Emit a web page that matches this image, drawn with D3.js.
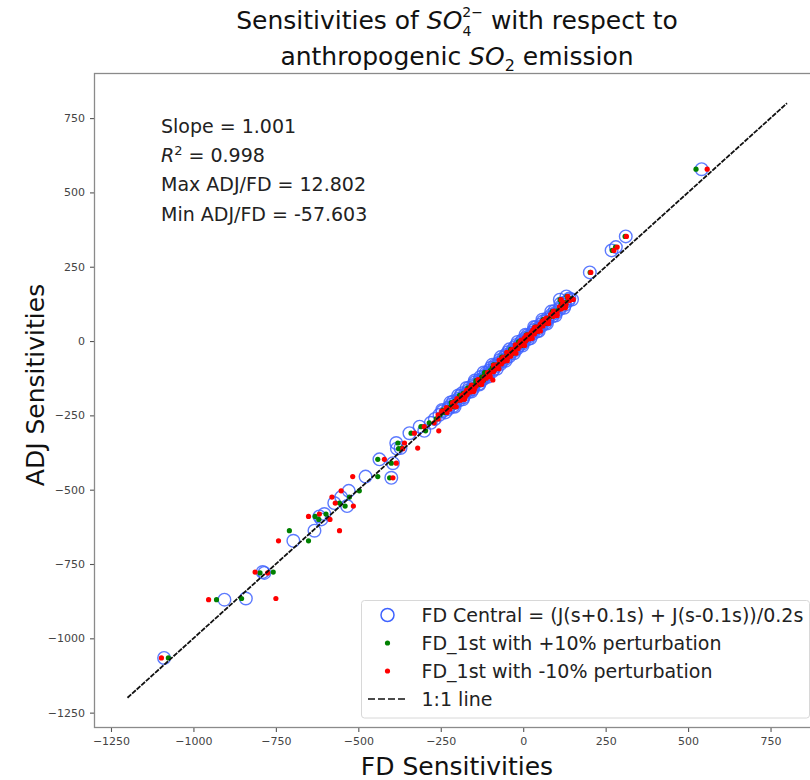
<!DOCTYPE html>
<html>
<head>
<meta charset="utf-8">
<script src="https://cdn.jsdelivr.net/npm/d3@7"></script>
<style>
  body { margin: 0; background: #fff; }
  svg { font-family: "DejaVu Sans", sans-serif; }
</style>
</head>
<body>
<div id="chart"></div>
<script>
// ADJ sensitivity of each grid cell (y) and the three finite-difference estimates (x)
const adj = [
  -1066, -870, -866, -777, -780, -672, -638, -590, -582, -600, -545, -525, -504, -555,
  -456, -398, -460, -411, -362, -343, -310, -288, -302, -360, -275, -262,
  -248, -240, -236, -229, -224, -219, -214, -208, -203, -199, -194, -189, -185, -180,
  -176, -171, -166, -162, -157, -152, -148, -143, -139, -134, -131, -130, -125, -121,
  -117, -112, -108, -103, -99, -95, -90, -86, -82, -77, -73, -69, -64, -60, -56, -51,
  -47, -43, -38, -34, -30, -26, -21, -17, -13, -9, -5, -1, 3, 7, 11, 15, 19, 24, 28,
  33, 37, 42, 46, 51, 56, 61, 66, 71, 77, 83, 89, 95, 101, 108, 115, 122, 129, 136,
  143, 139, 150, 231, 305, 316, 352, 578,
  -232, -221, -207, -196, -183, -170, -158, -146, -133, -120, -106, -93, -80, -66, -54,
  -41, -28, -15, -3, 9, 21, 34, 47, 59, 72, 86, 99, 112, 126, 140
];
const fdCentral = [
  -1089, -906, -841, -790, -785, -697, -633, -618, -603, -612, -573, -552, -529, -534,
  -478, -436, -400, -395, -383, -385, -345, -314, -300, -372, -280, -268,
  -254, -236, -244, -227, -227, -212, -219, -207, -212, -194, -196, -181, -191, -177,
  -186, -165, -167, -153, -164, -150, -152, -133, -147, -130, -125, -132, -118, -130,
  -116, -107, -114, -94, -102, -89, -98, -84, -87, -69, -74, -65, -71, -54, -59, -42,
  -53, -41, -47, -29, -32, -19, -26, -14, -21, -3, -7, 3, -3, 15, 8, 17, 12, 30, 27,
  42, 32, 45, 38, 56, 54, 68, 60, 73, 73, 89, 86, 99, 95, 111, 113, 127, 125, 138,
  140, 111, 131, 202, 268, 281, 311, 541,
  -246, -208, -221, -183, -197, -157, -172, -133, -147, -107, -120, -80, -94, -53, -68,
  -28, -42, -2, -17, 22, 7, 47, 33, 72, 58, 98, 85, 124, 113, 148
];
const fdPlus10 = [
  -1076, -930, -854, -758, -798, -651, -709, -631, -598, -620, -557, -527, -497, -540,
  -441, -441, -405, -400, -378, -380, -340, -310, -296, -368, -285, -264,
  -252, -238, -241, -229, -224, -215, -217, -209, -208, -197, -193, -184, -188, -179,
  -182, -168, -164, -156, -160, -152, -149, -137, -143, -132, -120, -129, -121, -126,
  -118, -110, -111, -97, -100, -92, -94, -86, -84, -72, -72, -67, -68, -57, -56, -45,
  -50, -43, -43, -32, -30, -22, -23, -16, -18, -6, -5, 1, 0, 12, 10, 15, 15, 27, 29,
  39, 35, 43, 41, 54, 56, 65, 63, 71, 75, 86, 88, 97, 98, 109, 115, 125, 127, 136,
  142, 112, 133, 203, 270, 280, 309, 524,
  -243, -211, -218, -186, -193, -160, -168, -136, -143, -110, -117, -83, -90, -56, -65,
  -31, -38, -5, -14, 19, 10, 44, 36, 69, 61, 95, 88, 121, 116, 146
];
const fdMinus10 = [
  -1097, -954, -750, -813, -775, -742, -557, -651, -618, -586, -570, -580, -552, -515,
  -517, -421, -395, -385, -365, -360, -330, -300, -256, -320, -270, -258,
  -258, -231, -247, -222, -233, -208, -211, -214, -204, -190, -201, -176, -183, -170,
  -178, -160, -172, -148, -156, -143, -157, -128, -136, -122, -92, -137, -112, -118,
  -108, -102, -105, -90, -92, -85, -88, -78, -90, -66, -68, -60, -73, -50, -62, -38,
  -46, -36, -50, -26, -35, -16, -20, -10, -24, 0, -10, 7, -6, 18, 4, 21, 9, 34, 24,
  45, 29, 49, 35, 60, 51, 71, 57, 77, 70, 92, 83, 103, 92, 115, 110, 130, 122, 141,
  137, 115, 135, 205, 275, 285, 313, 558,
  -236, -203, -212, -178, -186, -150, -161, -126, -135, -100, -108, -74, -82, -48, -58,
  -22, -33, 4, -8, 27, 14, 52, 40, 77, 65, 103, 92, 128, 120, 152
];
const oneToOne = [-1200, 800];
const tickValues = [-1250, -1000, -750, -500, -250, 0, 250, 500, 750];
const statLines = ["Slope = 1.001", "= 0.998", "Max ADJ/FD = 12.802", "Min ADJ/FD = -57.603"];
const legendLabels = [
  "FD Central = (J(s+0.1s) + J(s-0.1s))/0.2s",
  "FD_1st with +10% perturbation",
  "FD_1st with -10% perturbation",
  "1:1 line"
];

const width = 810, height = 780;
const margin = { top: 73.5, left: 94.5 };
const plotW = 725.5, plotH = 654;

const svg = d3.select("#chart").append("svg")
  .attr("width", width).attr("height", height);

const x = d3.scaleLinear().domain([-1300, 900]).range([margin.left, margin.left + plotW]);
const y = d3.scaleLinear().domain([-1300, 900]).range([margin.top + plotH, margin.top]);

const fmt = d => (d < 0 ? "\u2212" + Math.abs(d) : String(d));

// axes
const xAxis = svg.append("g")
  .attr("transform", `translate(0,${margin.top + plotH})`)
  .call(d3.axisBottom(x).tickValues(tickValues).tickFormat(fmt).tickSize(4.5).tickSizeOuter(0).tickPadding(5));
const yAxis = svg.append("g")
  .attr("transform", `translate(${margin.left},0)`)
  .call(d3.axisLeft(y).tickValues(tickValues).tickFormat(fmt).tickSize(4.5).tickSizeOuter(0).tickPadding(5));
[xAxis, yAxis].forEach(g => {
  g.select(".domain").remove();
  g.selectAll(".tick line").attr("stroke", "#555").attr("stroke-width", 1.1);
  g.selectAll(".tick text").attr("fill", "#444").style("font-size", "11px")
    .style("font-family", "DejaVu Sans, sans-serif");
});

// frame
svg.append("rect")
  .attr("x", margin.left).attr("y", margin.top)
  .attr("width", plotW).attr("height", plotH)
  .attr("fill", "none").attr("stroke", "#8a8a8a").attr("stroke-width", 1.3);

const idx = d3.range(adj.length);

// FD central: hollow blue circles
svg.append("g").selectAll("circle")
  .data(idx).join("circle")
  .attr("cx", i => x(fdCentral[i])).attr("cy", i => y(adj[i]))
  .attr("r", 6.3)
  .attr("fill", "none").attr("stroke", "#3f63ff").attr("stroke-width", 1.4).attr("opacity", 0.85);

// +10%: green dots
svg.append("g").selectAll("circle")
  .data(idx).join("circle")
  .attr("cx", i => x(fdPlus10[i])).attr("cy", i => y(adj[i]))
  .attr("r", 2.6).attr("fill", "#008000");

// -10%: red dots
svg.append("g").selectAll("circle")
  .data(idx).join("circle")
  .attr("cx", i => x(fdMinus10[i])).attr("cy", i => y(adj[i]))
  .attr("r", 2.6).attr("fill", "#ff0000");

// 1:1 line
svg.append("line")
  .attr("x1", x(oneToOne[0])).attr("y1", y(oneToOne[0]))
  .attr("x2", x(oneToOne[1])).attr("y2", y(oneToOne[1]))
  .attr("stroke", "#111").attr("stroke-width", 1.8).attr("stroke-dasharray", "5,1.2");

// stats text
const stats = svg.append("g").style("font-size", "19px").attr("fill", "#222");
statLines.forEach((s, i) => {
  const t = stats.append("text").attr("x", 161).attr("y", 133 + i * 29.2);
  if (i === 1) {
    t.append("tspan").style("font-style", "italic").text("R");
    t.append("tspan").style("font-size", "13px").attr("dy", -7).text("2");
    t.append("tspan").attr("dy", 7).text(" " + s);
  } else {
    t.text(s);
  }
});

// title
const t1 = svg.append("text").attr("x", 457).attr("y", 29)
  .attr("text-anchor", "middle").style("font-size", "25px").attr("fill", "#111");
t1.append("tspan").text("Sensitivities of ");
t1.append("tspan").style("font-style", "italic").text("SO");
t1.append("tspan").style("font-size", "14px").attr("dy", 7).text("4");
t1.append("tspan").style("font-size", "14px").attr("dx", -9).attr("dy", -19).text("2\u2212");
t1.append("tspan").attr("dy", 12).text(" with respect to");

const t2 = svg.append("text").attr("x", 457).attr("y", 65)
  .attr("text-anchor", "middle").style("font-size", "25px").attr("fill", "#111");
t2.append("tspan").text("anthropogenic ");
t2.append("tspan").style("font-style", "italic").text("SO");
t2.append("tspan").style("font-size", "16px").attr("dy", 6).text("2");
t2.append("tspan").attr("dy", -6).text(" emission");

// axis labels
svg.append("text").attr("x", 457).attr("y", 775).attr("text-anchor", "middle")
  .style("font-size", "25px").attr("fill", "#111").text("FD Sensitivities");
svg.append("text").attr("transform", `translate(44,385) rotate(-90)`)
  .attr("text-anchor", "middle").style("font-size", "25px").attr("fill", "#111")
  .text("ADJ Sensitivities");

// legend
const lg = svg.append("g");
lg.append("rect").attr("x", 361.5).attr("y", 600.5).attr("width", 448).attr("height", 117.5)
  .attr("rx", 3).attr("fill", "#fff").attr("fill-opacity", 0.85)
  .attr("stroke", "#d8d8d8").attr("stroke-width", 1);
const rowY = i => 615 + i * 28;
lg.append("circle").attr("cx", 387.5).attr("cy", rowY(0)).attr("r", 6.5)
  .attr("fill", "none").attr("stroke", "#3f63ff").attr("stroke-width", 1.5);
lg.append("circle").attr("cx", 387.5).attr("cy", rowY(1)).attr("r", 2.6).attr("fill", "#008000");
lg.append("circle").attr("cx", 387.5).attr("cy", rowY(2)).attr("r", 2.6).attr("fill", "#ff0000");
lg.append("line").attr("x1", 368).attr("x2", 407).attr("y1", rowY(3)).attr("y2", rowY(3))
  .attr("stroke", "#111").attr("stroke-width", 1.6).attr("stroke-dasharray", "7,3");
legendLabels.forEach((s, i) => {
  lg.append("text").attr("x", 421.5).attr("y", rowY(i) + 7)
    .style("font-size", "19px").attr("fill", "#222").text(s);
});
</script>
</body>
</html>
